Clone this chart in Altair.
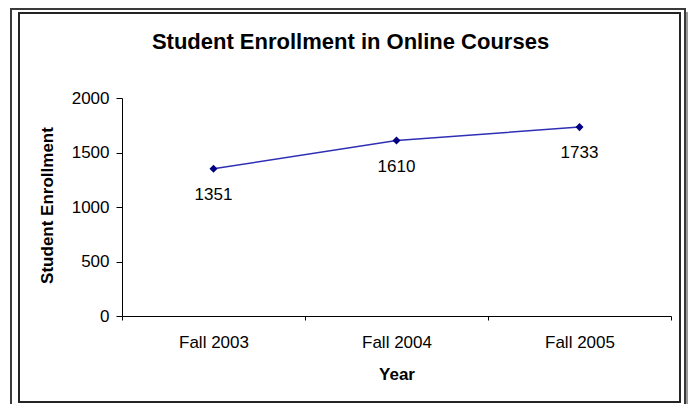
import altair as alt
import pandas as pd

years = ["Fall 2003", "Fall 2004", "Fall 2005"]
enrollment = [1351, 1610, 1733]
y_ticks = [0, 500, 1000, 1500, 2000]

df = pd.DataFrame({"Year": years, "Enrollment": enrollment})

W, H = 549, 218
FONT = "Liberation Sans"

x_enc = alt.X(
    "Year:N",
    sort=years,
    scale=alt.Scale(type="band", paddingInner=0, paddingOuter=0),
    axis=alt.Axis(
        title="Year",
        labelAngle=0,
        labelFont=FONT,
        labelFontSize=17,
        labelColor="#000",
        labelPadding=14,
        tickBand="extent",
        tickSize=4,
        tickColor="#000",
        domainColor="#000",
        titleFont=FONT,
        titleFontSize=17,
        titleFontWeight="bold",
        titleColor="#000",
        titleY=58,
        titleBaseline="middle",
        grid=False,
        zindex=1,
    ),
)
y_enc = alt.Y(
    "Enrollment:Q",
    scale=alt.Scale(domain=[0, 2000], nice=False),
    axis=alt.Axis(
        title="Student Enrollment",
        values=y_ticks,
        format="d",
        labelFont=FONT,
        labelFontSize=17,
        labelColor="#000",
        labelPadding=7,
        tickSize=6,
        tickColor="#000",
        domainColor="#000",
        titleFont=FONT,
        titleFontSize=17,
        titleFontWeight="bold",
        titleColor="#000",
        titleX=-75,
        titleY=H / 2 - 2,
        titleAngle=270,
        titleAlign="center",
        titleBaseline="middle",
        grid=False,
        zindex=1,
    ),
)

base = alt.Chart(df)

outer = base.mark_rect(fill="transparent", stroke="#3a3a3a", strokeWidth=2).encode(
    x=alt.value(-111), x2=alt.value(563), y=alt.value(-89), y2=alt.value(330)
)
shadow = base.mark_rect(fill="#9a9a9a").encode(
    x=alt.value(564), x2=alt.value(567), y=alt.value(-86), y2=alt.value(330)
)
inner = base.mark_rect(fill="transparent", stroke="#222", strokeWidth=1.5).encode(
    x=alt.value(-103), x2=alt.value(558), y=alt.value(-85), y2=alt.value(304)
)

line = base.mark_line(color="#2f2fb5", strokeWidth=1.5).encode(x=x_enc, y=y_enc)
pts = base.mark_point(shape="diamond", filled=True, color="#000080", size=65, opacity=1).encode(
    x=x_enc, y=y_enc
)
labels = base.mark_text(font=FONT, fontSize=17, color="#000", dy=26).encode(
    x=x_enc, y=y_enc, text="Enrollment:Q"
)

chart = (
    alt.layer(outer, shadow, inner, line, pts, labels)
    .properties(
        width=W,
        height=H,
        background="white",
        autosize=alt.AutoSizeParams(type="none"),
        padding={"left": 114, "top": 90, "right": 17, "bottom": 88},
        title=alt.TitleParams(
            "Student Enrollment in Online Courses",
            font=FONT,
            fontSize=22,
            fontWeight="bold",
            color="#000",
            anchor="middle",
            dx=-46,
            dy=56,
            offset=0,
            baseline="middle",
        ),
    )
    .configure_view(strokeOpacity=0, stroke="transparent")
)

chart.save("out.html", embed_options={"renderer": "svg", "actions": False})
